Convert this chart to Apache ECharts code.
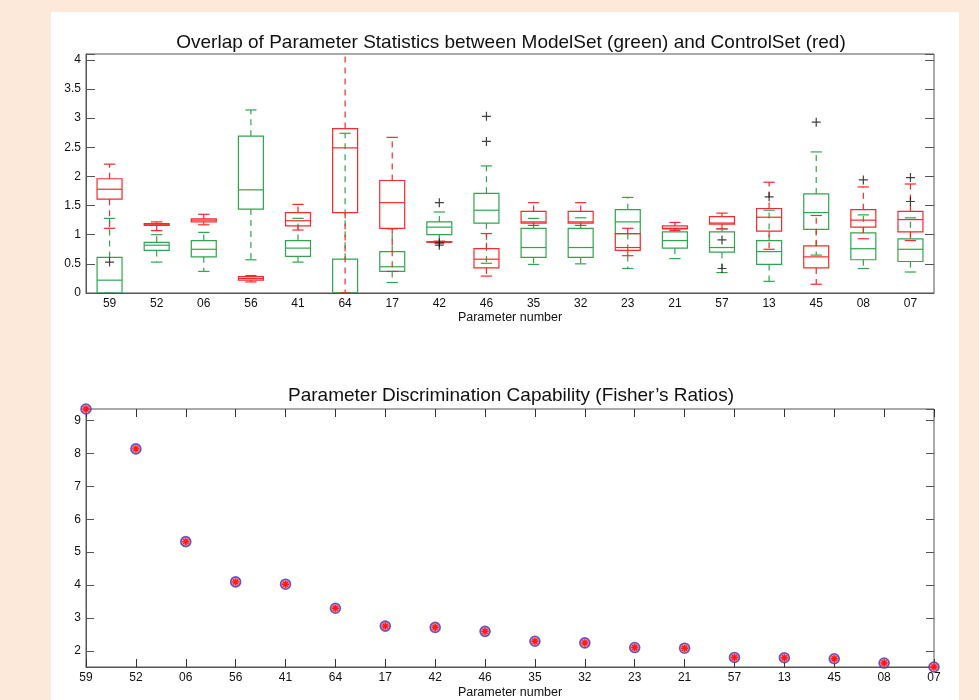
<!DOCTYPE html>
<html><head><meta charset="utf-8">
<script src="https://cdn.jsdelivr.net/npm/echarts@6/dist/echarts.min.js"></script>
<style>
html,body{margin:0;padding:0;background:#fce9da;width:979px;height:700px;overflow:hidden}
#paper{position:absolute;left:51px;top:12px;width:908px;height:688px;background:#fff}
#chart{position:absolute;left:0;top:0;width:979px;height:700px}
</style></head><body>
<div id="paper"></div><div id="chart"></div>
<script>
// ---- data ----
const categories = ['59','52','06','56','41','64','17','42','46','35','32','23','21','57','13','45','08','07'];
// [lowerWhisker, q1, median, q3, upperWhisker]
const modelSetBoxes = [
  [0.00,0.00,0.22,0.61,1.28],
  [0.53,0.73,0.82,0.87,1.00],
  [0.37,0.62,0.75,0.90,1.04],
  [0.57,1.44,1.77,2.69,3.14],
  [0.53,0.63,0.77,0.90,1.28],
  [0.00,0.00,0.00,0.58,2.74],
  [0.18,0.37,0.45,0.71,1.10],
  [0.88,1.00,1.13,1.22,1.39],
  [0.51,1.20,1.42,1.71,2.18],
  [0.49,0.61,0.78,1.11,1.28],
  [0.50,0.61,0.78,1.11,1.29],
  [0.42,1.02,1.22,1.43,1.64],
  [0.59,0.77,0.90,1.05,1.10],
  [0.35,0.70,0.78,1.05,1.10],
  [0.20,0.49,0.71,0.90,1.42],
  [0.65,1.09,1.38,1.70,2.42],
  [0.42,0.57,0.76,1.03,1.34],
  [0.36,0.54,0.75,0.93,1.29]
];
const controlSetBoxes = [
  [1.11,1.61,1.78,1.96,2.21],
  [1.07,1.16,1.17,1.19,1.22],
  [1.17,1.22,1.25,1.27,1.35],
  [0.19,0.22,0.25,0.28,0.30],
  [1.08,1.15,1.24,1.38,1.52],
  [0.00,1.38,2.49,2.82,4.60],
  [0.37,1.11,1.55,1.93,2.67],
  [0.86,0.87,0.875,0.88,0.89],
  [0.29,0.43,0.58,0.76,1.02],
  [1.16,1.20,1.22,1.40,1.55],
  [1.16,1.20,1.22,1.40,1.55],
  [0.64,0.73,0.78,1.02,1.11],
  [1.07,1.10,1.11,1.15,1.21],
  [1.10,1.18,1.20,1.31,1.37],
  [0.75,1.06,1.30,1.45,1.90],
  [0.15,0.43,0.62,0.81,1.33],
  [0.93,1.13,1.25,1.43,1.82],
  [0.90,1.05,1.26,1.40,1.87]
];
const outlierCats   = ['59','42','42','42','46','46','57','57','13','45','08','07','07'];
const outlierValues = [0.53,1.55,0.86,0.82,3.03,2.60,0.91,0.42,1.65,2.93,1.94,1.98,1.57];
const fisherRatios = [9.34,8.13,5.32,4.10,4.03,3.30,2.76,2.72,2.60,2.30,2.25,2.11,2.09,1.81,1.80,1.77,1.64,1.52];
const topYTicks = [0,0.5,1,1.5,2,2.5,3,3.5,4];

// ---- styles ----
const FONT = 'Liberation Sans, Arial, sans-serif';
const GREEN = '#2fa64e';
const RED = '#f52a2a';
const AXIS = '#555';

function boxRenderer(color){
  return function(params, api){
    const i = api.value(0);
    const lo = api.coord([i, api.value(1)]);
    const q1 = api.coord([i, api.value(2)]);
    const md = api.coord([i, api.value(3)]);
    const q3 = api.coord([i, api.value(4)]);
    const hi = api.coord([i, api.value(5)]);
    const band = api.size([1,0])[0];
    const w = band*0.53, cw = band*0.24;
    const x = lo[0];
    const solid = {stroke: color, lineWidth: 1.2, fill: null};
    const dashed = {stroke: color, lineWidth: 1.2, lineDash: [6,5], fill: null};
    return {type:'group', children:[
      {type:'line', shape:{x1:x,y1:q3[1],x2:x,y2:hi[1]}, style:dashed},
      {type:'line', shape:{x1:x,y1:q1[1],x2:x,y2:lo[1]}, style:dashed},
      {type:'line', shape:{x1:x-cw/2,y1:hi[1],x2:x+cw/2,y2:hi[1]}, style:solid},
      {type:'line', shape:{x1:x-cw/2,y1:lo[1],x2:x+cw/2,y2:lo[1]}, style:solid},
      {type:'rect', shape:{x:x-w/2,y:q3[1],width:w,height:q1[1]-q3[1]}, style:{stroke:color,lineWidth:1.2,fill:'none'}},
      {type:'line', shape:{x1:x-w/2,y1:md[1],x2:x+w/2,y2:md[1]}, style:solid}
    ]};
  };
}

const fMin = Math.min(...fisherRatios), fMax = Math.max(...fisherRatios);
const labelStyle = {color:'#111', fontSize:12, fontFamily:FONT};
const nameStyle = {color:'#111', fontSize:12.5, fontFamily:FONT};

const option = {
  animation:false,
  backgroundColor:'transparent',
  title:[
    {text:'Overlap of Parameter Statistics between ModelSet (green) and ControlSet (red)', left:506, top:28, textAlign:'center',
     textStyle:{fontSize:19, fontWeight:'normal', color:'#111', fontFamily:FONT}},
    {text:'Parameter Discrimination Capability (Fisher\u2019s Ratios)', left:506, top:381, textAlign:'center',
     textStyle:{fontSize:19, fontWeight:'normal', color:'#111', fontFamily:FONT}}
  ],
  grid:[
    {left:86, right:45, top:54, height:239, show:true, borderColor:AXIS, borderWidth:1, backgroundColor:'transparent'},
    {left:86, right:45, top:409, height:259, show:true, borderColor:AXIS, borderWidth:1, backgroundColor:'transparent'}
  ],
  xAxis:[
    {type:'category', gridIndex:0, data:categories, boundaryGap:true,
     axisLine:{lineStyle:{color:AXIS}}, axisTick:{show:false}, axisLabel:Object.assign({margin:5}, labelStyle),
     name:'Parameter number', nameLocation:'middle', nameGap:17, nameTextStyle:nameStyle},
    {type:'category', gridIndex:1, data:categories, boundaryGap:false,
     axisLine:{lineStyle:{color:AXIS}}, axisTick:{show:true, inside:true, length:8, alignWithLabel:true, lineStyle:{color:'#333'}},
     axisLabel:Object.assign({margin:5, interval:0}, labelStyle),
     name:'Parameter number', nameLocation:'middle', nameGap:19, nameTextStyle:nameStyle},
    {type:'category', gridIndex:1, data:categories, boundaryGap:false, position:'top',
     axisLine:{show:false}, axisTick:{show:true, inside:true, length:8, lineStyle:{color:'#333'}},
     axisLabel:{show:false}}
  ],
  yAxis:[
    {type:'value', gridIndex:0, min:0, max:4.1, interval:0.5, splitLine:{show:false},
     axisLine:{show:true, lineStyle:{color:AXIS}}, axisTick:{show:true, inside:true, length:9, lineStyle:{color:AXIS}},
     axisLabel:Object.assign({margin:5, formatter:v => topYTicks.some(t=>Math.abs(t-v)<1e-9) ? String(v) : ''}, labelStyle)},
    {type:'value', gridIndex:0, min:0, max:4.1, interval:0.5, position:'right', splitLine:{show:false},
     axisLine:{show:false}, axisTick:{show:true, inside:true, length:9, lineStyle:{color:AXIS}}, axisLabel:{show:false}},
    {type:'value', gridIndex:1, min:fMin, max:fMax, splitNumber:8, splitLine:{show:false},
     axisLine:{show:true, lineStyle:{color:AXIS}}, axisTick:{show:true, inside:true, length:8, lineStyle:{color:AXIS}},
     axisLabel:Object.assign({margin:5, showMinLabel:false, showMaxLabel:false,
       formatter:v => Math.abs(v-Math.round(v))<1e-6 ? String(Math.round(v)) : ''}, labelStyle)},
    {type:'value', gridIndex:1, min:fMin, max:fMax, splitNumber:8, position:'right', splitLine:{show:false},
     axisLine:{show:false}, axisTick:{show:true, inside:true, length:8, lineStyle:{color:AXIS}}, axisLabel:{show:false}}
  ],
  series:[
    {type:'custom', name:'ModelSet', xAxisIndex:0, yAxisIndex:0, clip:true,
     data: modelSetBoxes.map((b,i)=>[i].concat(b)), encode:{x:0, y:[1,2,3,4,5]},
     renderItem: boxRenderer(GREEN)},
    {type:'custom', name:'ControlSet', xAxisIndex:0, yAxisIndex:0, clip:true,
     data: controlSetBoxes.map((b,i)=>[i].concat(b)), encode:{x:0, y:[1,2,3,4,5]},
     renderItem: boxRenderer(RED)},
    {type:'scatter', name:'Outliers', xAxisIndex:0, yAxisIndex:0,
     data: outlierCats.map((c,i)=>[c, outlierValues[i]]),
     symbol:'path://M5,0L5,10M0,5L10,5', symbolSize:9,
     itemStyle:{color:'none', borderColor:'#111', borderWidth:1.2}},
    {type:'scatter', name:'Fisher circle', xAxisIndex:1, yAxisIndex:2, clip:false,
     data: fisherRatios, symbol:'circle', symbolSize:10,
     itemStyle:{color:'#ff6a6a', borderColor:'#3a3ad0', borderWidth:1.6}},
    {type:'scatter', name:'Fisher star', xAxisIndex:1, yAxisIndex:2, clip:false,
     data: fisherRatios, symbol:'path://M5,0L5,10M0,5L10,5M1.5,1.5L8.5,8.5M1.5,8.5L8.5,1.5', symbolSize:7,
     itemStyle:{color:'none', borderColor:'#ff0000', borderWidth:1.4}}
  ]
};
const chart = echarts.init(document.getElementById('chart'), null, {renderer:'canvas'});
chart.setOption(option);
</script>
</body></html>
